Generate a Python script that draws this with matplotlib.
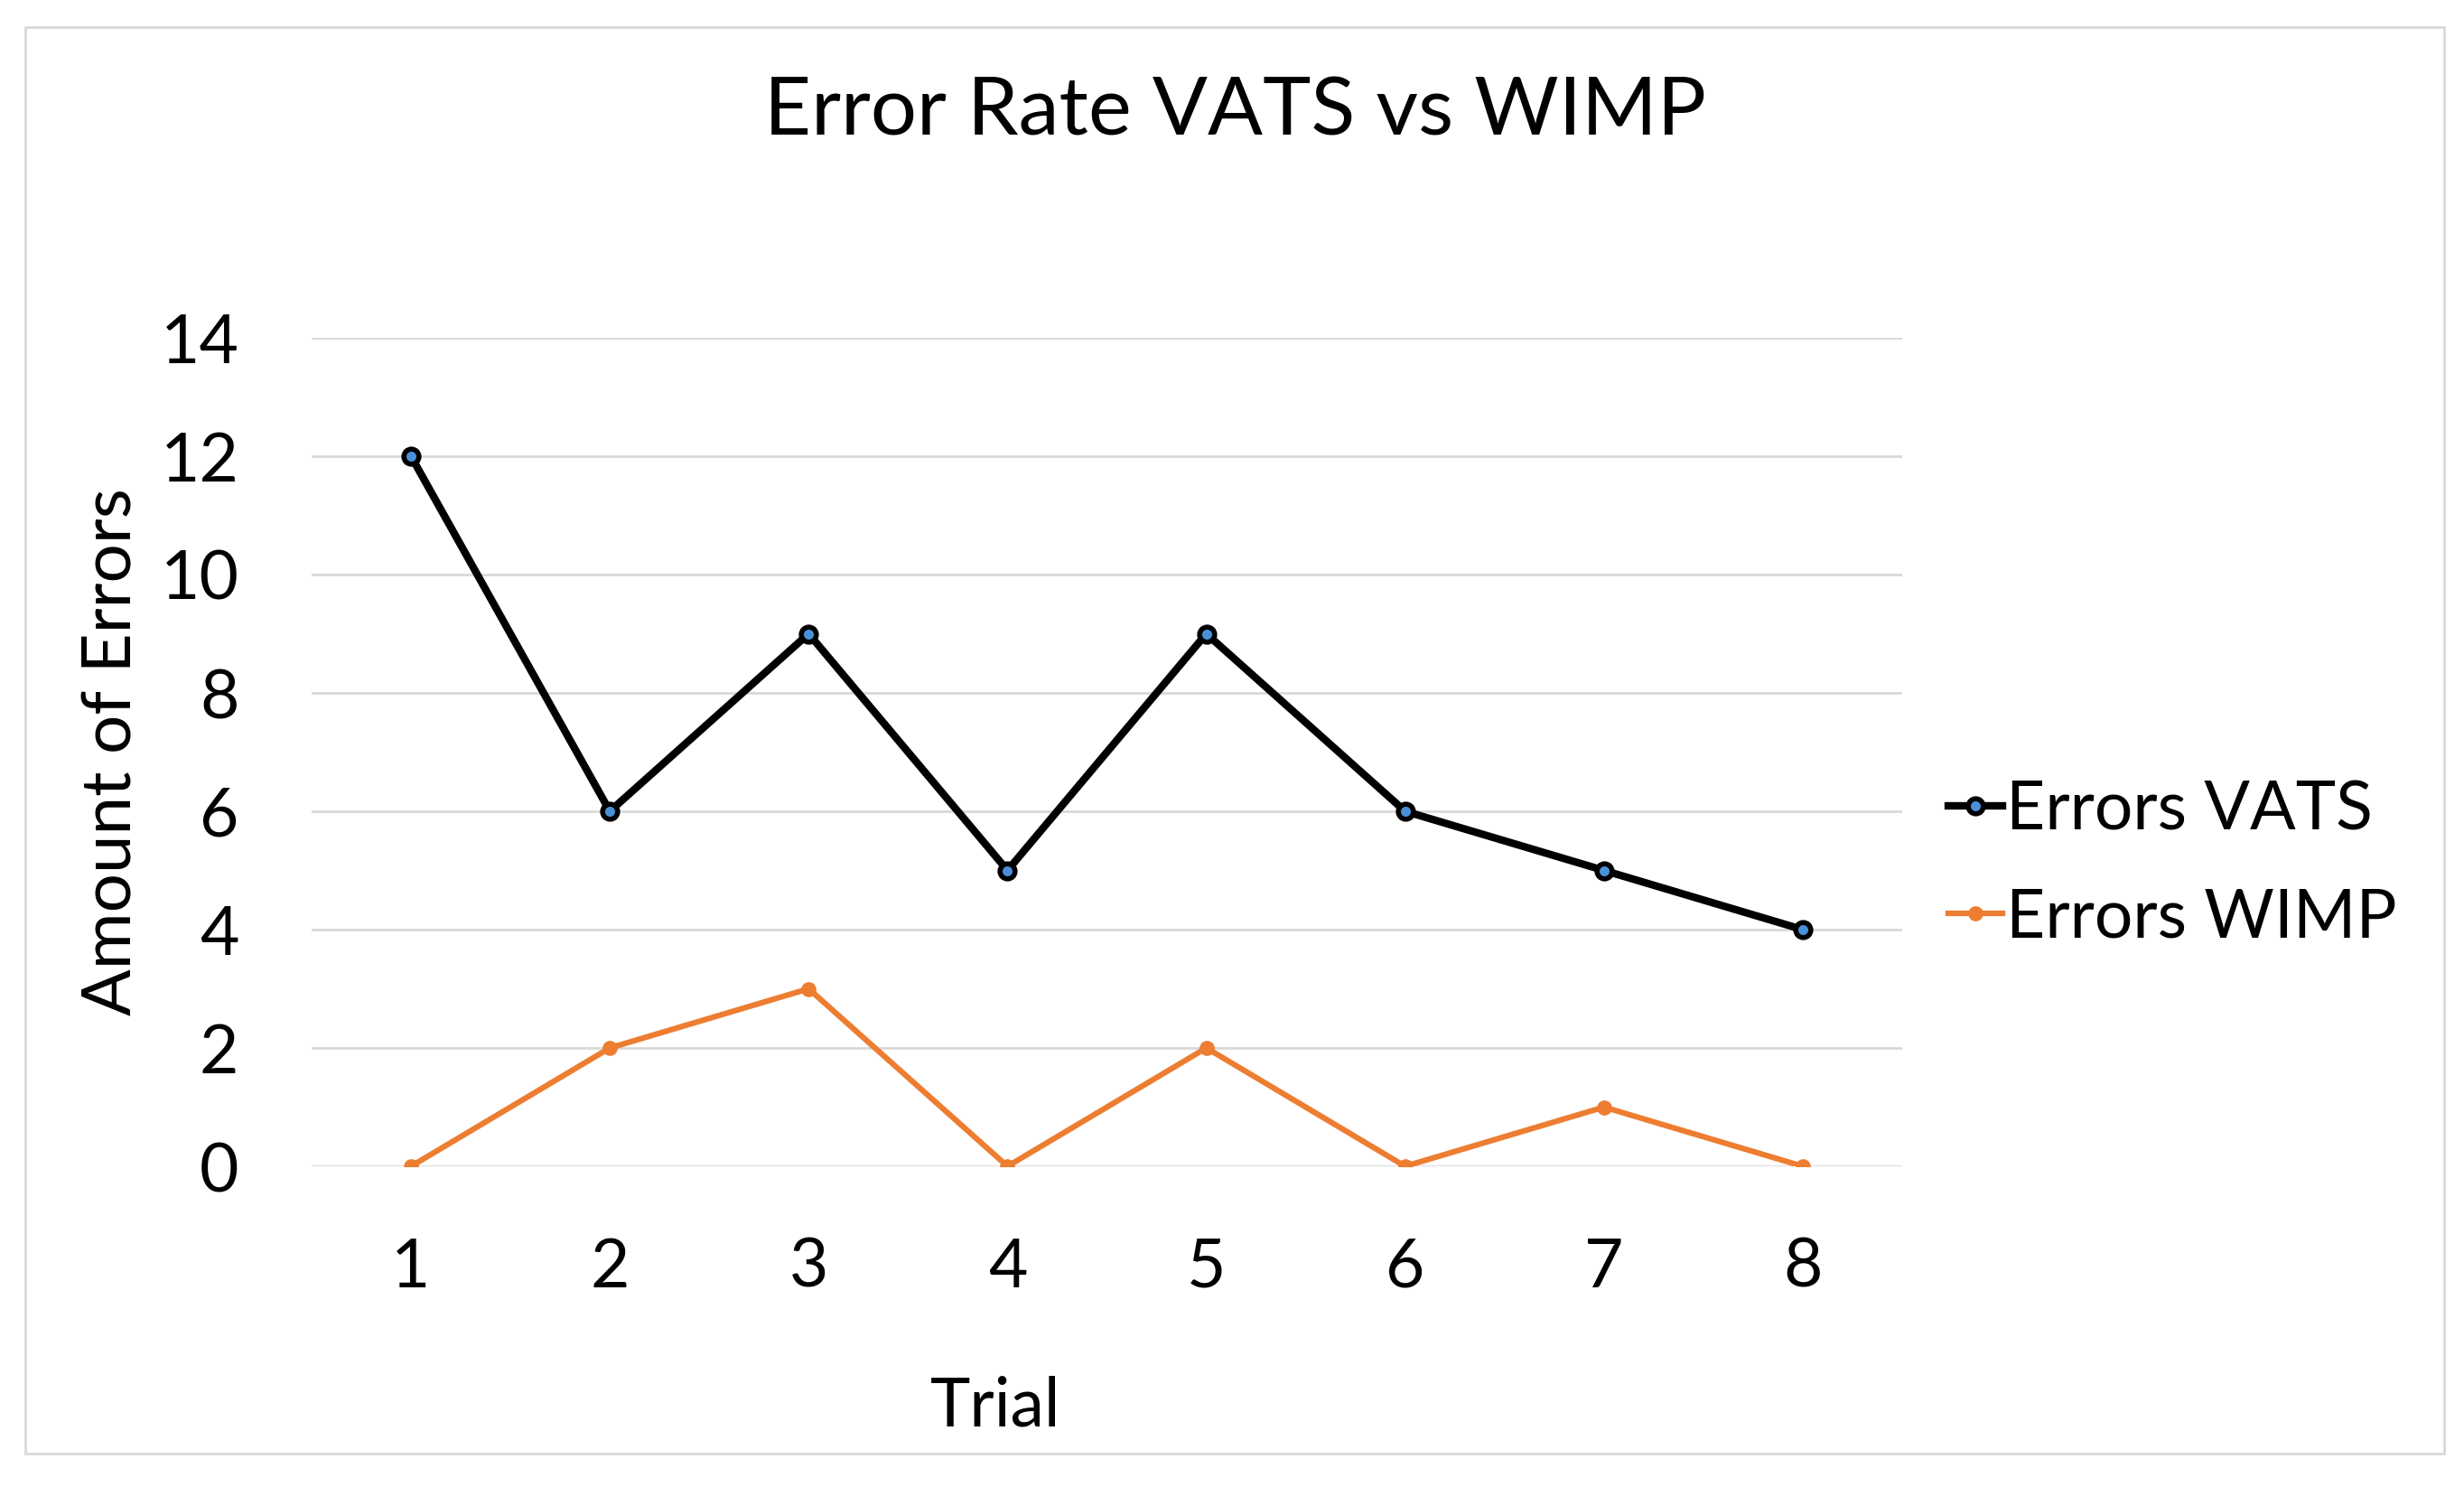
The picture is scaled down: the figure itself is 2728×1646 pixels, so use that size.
import matplotlib.pyplot as plt
from matplotlib.patches import Rectangle

trials = [1, 2, 3, 4, 5, 6, 7, 8]
errors_vats = [12, 6, 9, 5, 9, 6, 5, 4]
errors_wimp = [0, 2, 3, 0, 2, 0, 1, 0]
y_ticks = [0, 2, 4, 6, 8, 10, 12, 14]

plt.rcParams['font.family'] = ['Lato', 'DejaVu Sans']

W, H = 2728, 1646
fig = plt.figure(figsize=(W / 100, H / 100), dpi=100)
fig.patch.set_facecolor('white')

# outer chart border
fig.add_artist(Rectangle((28 / W, 1 - 1609 / H), (2706 - 28) / W, (1609 - 30) / H,
                         transform=fig.transFigure, fill=False,
                         edgecolor='#d9d9d9', linewidth=2))

ax = fig.add_axes([345 / W, 1 - 1291 / H, (2106 - 345) / W, (1291 - 374) / H])

ax.plot(trials, errors_vats, color='black', linewidth=6, marker='o',
        markersize=12, markerfacecolor='#4a90d9', markeredgecolor='black',
        markeredgewidth=4, label='Errors VATS', zorder=3)
ax.plot(trials, errors_wimp, color='#ed7d31', linewidth=4.5, marker='o',
        markersize=11, markerfacecolor='#ed7d31', markeredgecolor='#ed7d31',
        label='Errors WIMP', zorder=3)

ax.set_xlim(0.5, 8.5)
ax.set_ylim(0, 14)
ax.set_yticks(y_ticks)
ax.set_xticks(trials)
ax.grid(axis='y', color='#d9d9d9', linewidth=2)
ax.set_axisbelow(True)
for s in ax.spines.values():
    s.set_visible(False)
ax.tick_params(length=0, labelsize=54)
ax.tick_params(axis='y', pad=58)
ax.tick_params(axis='x', pad=56)
for lab in ax.get_xticklabels() + ax.get_yticklabels():
    lab.set_clip_on(False)

ax.set_xlabel('Trial', fontsize=54, va='center')
ax.xaxis.set_label_coords(0.43, -0.29)
ax.set_ylabel('Amount of Errors', fontsize=55, labelpad=14)

fig.text(1368 / W, 1 - 124 / H, 'Error Rate VATS vs WIMP', fontsize=65,
         ha='center', va='center')

leg = ax.legend(loc='center left', bbox_to_anchor=(1.012, 0.365), frameon=False,
                fontsize=54, handlelength=0.8, handletextpad=0.05,
                labelspacing=0.67, borderaxespad=0)

fig.savefig('out.png', dpi=100, facecolor='white')
